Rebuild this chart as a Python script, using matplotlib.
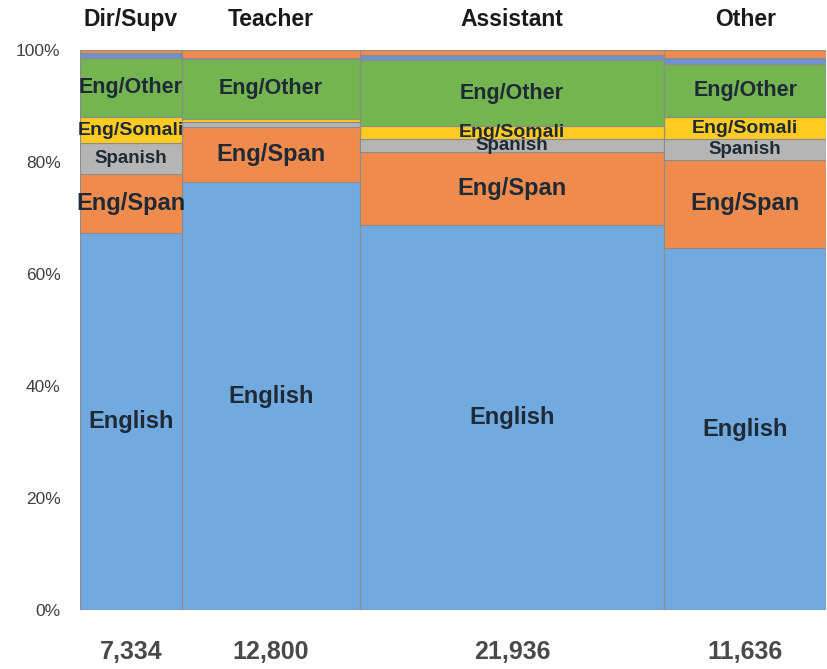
import matplotlib

matplotlib.use('Agg')
import matplotlib.pyplot as plt
import numpy as np

plt.rcParams['font.family'] = ['Liberation Sans', 'DejaVu Sans']

# column categories and their head counts (column widths)
roles = ["Dir/Supv", "Teacher", "Assistant", "Other"]
counts = [7334, 12800, 21936, 11636]

# language shares (%) per role, stacked bottom to top
languages = ["English", "Eng/Span", "Spanish", "Eng/Somali", "Eng/Other", "Other lang", "Unknown"]
english = [67.3, 76.4, 68.8, 64.6]
eng_span = [10.6, 9.8, 13.0, 15.8]
spanish = [5.5, 0.9, 2.3, 3.7]
eng_somali = [4.6, 0.6, 2.3, 3.9]
eng_other = [10.6, 10.7, 11.8, 9.5]
other_lang = [0.9, 0.2, 0.9, 1.1]
unknown = [0.5, 1.4, 0.9, 1.4]

shares = [english, eng_span, spanish, eng_somali, eng_other, other_lang, unknown]
colors = ["#72a9de", "#f08b4e", "#b5b5b5", "#ffcb20", "#74b451", "#6f91cf", "#f08b4e"]

# which segments get a label in each column
show_labels = [
    ["English", "Eng/Span", "Spanish", "Eng/Somali", "Eng/Other"],
    ["English", "Eng/Span", "Eng/Other"],
    ["English", "Eng/Span", "Spanish", "Eng/Somali", "Eng/Other"],
    ["English", "Eng/Span", "Spanish", "Eng/Somali", "Eng/Other"],
]
label_size = {"English": 17, "Eng/Span": 17, "Spanish": 13.5, "Eng/Somali": 14, "Eng/Other": 15.5}


def main():
    fig = plt.figure(figsize=(8.28, 6.69), dpi=100)
    ax = fig.add_axes([0.0966, 0.0882, 0.901, 0.8371])

    total = sum(counts)
    widths = np.array(counts) / total * 100
    lefts = np.concatenate([[0], np.cumsum(widths)[:-1]])
    centers = lefts + widths / 2

    bottoms = np.zeros(len(roles))
    for lang, vals, col in zip(languages, shares, colors):
        vals = np.array(vals)
        ax.bar(lefts, vals, width=widths, bottom=bottoms, align='edge',
               color=col, edgecolor='#8c8c8c', linewidth=0.8)
        for i in range(len(roles)):
            if lang in show_labels[i]:
                ax.text(centers[i], bottoms[i] + vals[i] / 2, lang,
                        ha='center', va='center', fontsize=label_size[lang],
                        fontweight='bold', color='#1e2a36')
        bottoms += vals

    for c, role, n in zip(centers, roles, counts):
        ax.text(c, 105.4, role, ha='center', va='center', fontsize=16.5,
                fontweight='bold', color='#1a1a1a', clip_on=False)
        ax.text(c, -7.5, f"{n:,}", ha='center', va='center', fontsize=18,
                fontweight='bold', color='#4a4a4a', clip_on=False)

    ax.set_xlim(0, 100)
    ax.set_ylim(0, 100)
    ax.set_yticks(range(0, 101, 20))
    ax.set_yticklabels([f"{v}%" for v in range(0, 101, 20)], fontsize=12.5, color='#404040')
    ax.set_xticks([])
    ax.tick_params(axis='y', length=0, pad=14)
    for s in ax.spines.values():
        s.set_visible(False)

    fig.savefig("out.png", dpi=100)
    plt.close(fig)


if __name__ == "__main__":
    main()
